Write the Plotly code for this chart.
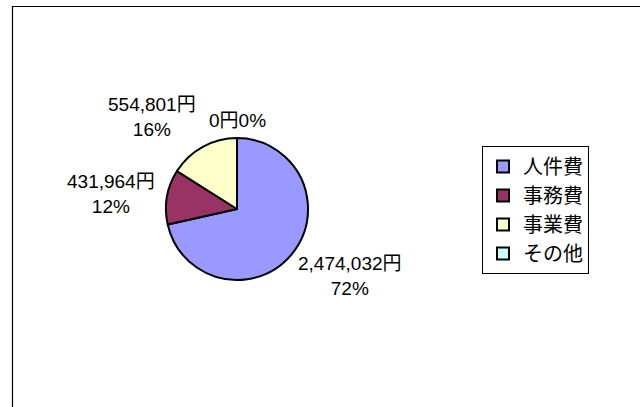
import plotly.graph_objects as go

categories = ["人件費", "事務費", "事業費", "その他"]
amounts = [2474032, 431964, 554801, 0]
percent_labels = [72, 12, 16, 0]
colors = ["#9999FF", "#993366", "#FFFFCC", "#CCFFFF"]

W, H = 640, 407
FONT = "Liberation Sans, Noto Sans CJK JP, sans-serif"

def px(x):
    return x / W

def py(y):
    return 1 - y / H

fig = go.Figure()
fig.add_trace(go.Pie(
    labels=categories,
    values=amounts,
    sort=False,
    direction="clockwise",
    rotation=0,
    textinfo="none",
    hoverinfo="label+value+percent",
    marker=dict(colors=colors, line=dict(color="black", width=2)),
    domain=dict(x=[px(166), px(308)], y=[py(280), py(138)]),
    showlegend=True,
))

# label texts built from the data arrays
texts = []
for amt, pc in zip(amounts, percent_labels):
    if amt == 0:
        texts.append(f"{amt:,}円{pc}%")
    else:
        texts.append(f"{amt:,}円<br>{pc}%")

# label anchor positions (pixel layout)
label_pos = [(350, 276), (111, 194), (152, 117), (237, 120)]

for t, (lx, ly) in zip(texts, label_pos):
    fig.add_annotation(
        x=px(lx), y=py(ly), xref="paper", yref="paper",
        text=t, showarrow=False, xanchor="center", yanchor="middle",
        font=dict(family=FONT, size=19, color="black"),
    )

# outer chart-area border
fig.add_shape(type="rect", xref="paper", yref="paper",
              x0=px(12.5), x1=1.05, y0=-0.05, y1=py(6.5),
              line=dict(color="black", width=1.2), fillcolor="rgba(0,0,0,0)")

fig.update_layout(
    width=W, height=H,
    margin=dict(l=0, r=0, t=0, b=0),
    paper_bgcolor="white",
    plot_bgcolor="white",
    font=dict(family=FONT, size=18, color="black"),
    legend=dict(
        x=px(482), y=py(146), xanchor="left", yanchor="top",
        bordercolor="black", borderwidth=1, bgcolor="white",
        font=dict(family="Noto Sans CJK JP, sans-serif", size=20, color="black"),
        itemclick=False, itemdoubleclick=False,
    ),
)

fig.write_html(
    "out.html",
    config={"displayModeBar": False},
    post_script="document.body.style.margin='0';document.body.style.overflow='hidden';",
)
